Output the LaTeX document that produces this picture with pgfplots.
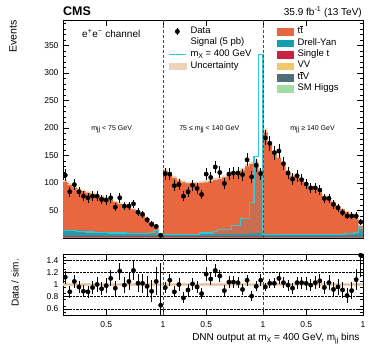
\documentclass[border=0pt]{standalone}
\usepackage{pgfplots}
\pgfplotsset{compat=1.18}
\usepackage{pgfplotstable}
\usepackage{fontspec}
\setmainfont{Liberation Sans}
\definecolor{ttcol}{RGB}{232,103,62}
\definecolor{dycol}{RGB}{20,158,178}
\definecolor{sigcol}{RGB}{50,200,215}
\definecolor{stcol}{RGB}{200,35,65}
\definecolor{vvcol}{RGB}{238,200,105}
\definecolor{ttvcol}{RGB}{80,110,115}
\definecolor{higcol}{RGB}{165,220,165}
\definecolor{unccol}{RGB}{236,212,186}
\definecolor{unclin}{RGB}{228,190,150}
\newcommand{\ttbar}{t\kern0.02em\rlap{\raisebox{0.76em}{\rule{0.28em}{0.06em}}}t}
\newcommand{\sub}[1]{\raisebox{-0.35ex}{\scriptsize #1}}

\pgfplotstableread{
i tot dy st vv ttv hig sig
0 102 12 1.6 0.6 0.8 0.3 14
1 96 11.5 1.6 0.6 0.8 0.3 13
2 92 11 1.6 0.6 0.8 0.3 13
3 88 10.5 1.6 0.6 0.8 0.3 12
4 85 10 1.6 0.6 0.8 0.3 12
5 82 9.5 1.6 0.6 0.8 0.3 11
6 80 9 1.6 0.6 0.8 0.3 11
7 77 8.5 1.6 0.6 0.8 0.3 10
8 75 8 1.6 0.6 0.8 0.3 10
9 72 8 1.6 0.6 0.8 0.3 10
10 69 7.5 1.6 0.6 0.8 0.3 9
11 65 7 1.6 0.6 0.8 0.3 9
12 62 7 1.6 0.6 0.8 0.3 9
13 59 6.5 1.6 0.6 0.8 0.3 9
14 56 6 1.6 0.6 0.8 0.3 8
15 52 6 1.6 0.6 0.8 0.3 8
16 48 5.5 1.6 0.6 0.8 0.3 8
17 43 5 1.6 0.6 0.8 0.3 8
18 36 4.5 1.6 0.6 0.8 0.3 8
19 29 4 1.6 0.6 0.8 0.3 10
20 22 3.5 1.6 0.6 0.8 0.3 14
21 9 3 1.6 0.6 0.8 0.3 8
22 122 4 1.8 0.6 0.8 0.3 6
23 115 4 1.8 0.6 0.8 0.3 6
24 109 4 1.8 0.6 0.8 0.3 6
25 104 4 1.8 0.6 0.8 0.3 6
26 101 3.5 1.8 0.6 0.8 0.3 6
27 99 3.5 1.8 0.6 0.8 0.3 6
28 99 3.5 1.8 0.6 0.8 0.3 6
29 99 3.5 1.8 0.6 0.8 0.3 6
30 100 3.5 1.8 0.6 0.8 0.3 9
31 101 3.5 1.8 0.6 0.8 0.3 9
32 103 3.5 1.8 0.6 0.8 0.3 9
33 105 3.5 1.8 0.6 0.8 0.3 12
34 107 3.5 1.8 0.6 0.8 0.3 16
35 110 3.5 1.8 0.6 0.8 0.3 16
36 112 3.5 1.8 0.6 0.8 0.3 16
37 115 4 1.8 0.6 0.8 0.3 23
38 118 4 1.8 0.6 0.8 0.3 23
39 123 4 1.8 0.6 0.8 0.3 36
40 130 4.5 1.8 0.6 0.8 0.3 36
41 134 5 1.8 0.6 0.8 0.3 64
42 137 6 1.8 0.6 0.8 0.3 148
43 122 6 1.8 0.6 0.8 0.3 334
44 192 5 1.2 0.6 0.8 0.3 7
45 170 4.5 1.2 0.6 0.8 0.3 7
46 153 4.5 1.2 0.6 0.8 0.3 7
47 145 4 1.2 0.6 0.8 0.3 7
48 132 4 1.2 0.6 0.8 0.3 7
49 120 4 1.2 0.6 0.8 0.3 7
50 113 4 1.2 0.6 0.8 0.3 7
51 109 3.5 1.2 0.6 0.8 0.3 7
52 103 3.5 1.2 0.6 0.8 0.3 7
53 97 3.5 1.2 0.6 0.8 0.3 7
54 92 3.5 1.2 0.6 0.8 0.3 7
55 88 3.5 1.2 0.6 0.8 0.3 7
56 83 3.5 1.2 0.6 0.8 0.3 7
57 76 3 1.2 0.6 0.8 0.3 7
58 71 3 1.2 0.6 0.8 0.3 7
59 65 3 1.2 0.6 0.8 0.3 7
60 58 3 1.2 0.6 0.8 0.3 7
61 52 3 1.2 0.6 0.8 0.3 7
62 47 3 1.2 0.6 0.8 0.3 8
63 43 3.5 1.2 0.6 0.8 0.3 8
64 37 4 1.2 0.6 0.8 0.3 10
65 22 9 1.2 0.6 0.8 0.3 18
66 22 9 1.2 0.6 0.8 0.3 18
}\hist

\pgfplotstableread{
x d r rp rm
0.5 114 1.12 0.105 0.105
1.5 84 0.88 0.096 0.096
2.5 97 1.05 0.107 0.107
3.5 84 0.96 0.105 0.105
4.5 76 0.89 0.10 0.10
5.5 73 0.88 0.10 0.10
6.5 76 0.95 0.11 0.11
7.5 76 1.00 0.115 0.115
8.5 70 0.93 0.11 0.11
9.5 69 0.98 0.12 0.12
10.5 73 1.10 0.13 0.13
11.5 56 0.94 0.125 0.125
12.5 73 1.22 0.14 0.14
13.5 58 0.99 0.13 0.13
14.5 58 1.05 0.14 0.14
15.5 62 1.23 0.155 0.155
16.5 47 1.02 0.15 0.15
17.5 43 1.02 0.155 0.155
18.5 33 0.97 0.17 0.17
19.5 25 0.89 0.18 0.18
20.5 21 1.05 0.23 0.23
21.5 5 0.66 0.70 0.30
22.5 117 0.95 0.088 0.088
23.5 116 1.07 0.10 0.10
24.5 95 0.88 0.09 0.09
25.5 97 1.00 0.10 0.10
26.5 76 0.78 0.09 0.09
27.5 84 0.91 0.10 0.10
28.5 96 1.01 0.10 0.10
29.5 90 0.96 0.10 0.10
30.5 79 0.85 0.095 0.095
31.5 116 1.17 0.11 0.11
32.5 110 1.09 0.10 0.10
33.5 129 1.23 0.11 0.11
34.5 119 1.14 0.105 0.105
35.5 99 0.90 0.09 0.09
36.5 116 1.04 0.096 0.096
37.5 118 1.04 0.095 0.095
38.5 118 1.03 0.095 0.095
39.5 115 0.92 0.086 0.086
40.5 142 1.07 0.09 0.09
41.5 111 0.81 0.077 0.077
42.5 132 0.97 0.084 0.084
43.5 117 1.07 0.10 0.10
44.5 182 0.96 0.07 0.07
45.5 172 1.02 0.078 0.078
46.5 155 1.02 0.082 0.082
47.5 158 1.10 0.087 0.087
48.5 135 1.03 0.089 0.089
49.5 118 0.99 0.09 0.09
50.5 107 0.94 0.09 0.09
51.5 113 1.03 0.097 0.097
52.5 106 1.03 0.10 0.10
53.5 98 1.02 0.103 0.103
54.5 91 0.99 0.104 0.104
55.5 91 1.03 0.108 0.108
56.5 87 1.06 0.114 0.114
57.5 72 0.95 0.112 0.112
58.5 72 1.03 0.121 0.121
59.5 61 0.92 0.118 0.118
60.5 55 0.96 0.13 0.13
61.5 46 0.91 0.135 0.135
62.5 40 0.82 0.13 0.13
63.5 40 0.90 0.143 0.143
64.5 40 1.08 0.17 0.17
65.5 29 1.48 0.30 0.36
}\data

\pgfplotsset{
  cmsstyle/.style={
    scale only axis, width=300pt, xmin=0, xmax=66,
    xtick={9.5,22,31.5,44,53.5,66},
    major tick length=6pt, minor tick length=3pt,
    tick style={black, line width=0.5pt},
    axis line style={line width=0.6pt},
    tick label style={font=\fontsize{8.5}{10}\selectfont},
    /pgf/number format/assume math mode=true,
  },
  databar/.style={only marks, mark=*, mark size=2.2pt, black,
    error bars/y dir=both, error bars/y explicit, error bars/error mark=none,
    error bars/error bar style={black, line width=0.8pt}},
  boxleg/.style={legend image code/.code={\fill[#1] (0pt,-3.3pt) rectangle (16pt,3.3pt);}},
}

\begin{document}
\begin{tikzpicture}
\useasboundingbox (0,0) rectangle (374pt,363pt);

% ---------------- main panel
\begin{axis}[cmsstyle,
  at={(63pt,125pt)}, anchor=south west, height=218pt,
  ymin=0, ymax=396, xticklabels={},
  ytick={50,100,...,350}, minor ytick={10,20,...,390},
  yticklabel style={xshift=-1pt},
  legend style={at={(rel axis cs:0.713,0.972)}, anchor=north west, draw=none, fill=none,
    inner sep=0pt, row sep=0pt, column sep=4pt, font=\fontsize{9.5}{11}\selectfont,
    nodes={inner sep=0pt, text height=7.4pt, text depth=4pt}},
  legend cell align=left,
]
\addplot[const plot, fill=unccol, draw=none, forget plot] table[x=i, y expr=1.035*\thisrow{tot}] {\hist} \closedcycle;
\addplot[const plot, fill=ttcol, draw=none, forget plot] table[x=i, y=tot] {\hist} \closedcycle;
\addplot[const plot, fill=dycol, draw=none, forget plot] table[x=i, y expr=\thisrow{dy}+\thisrow{st}+\thisrow{vv}+\thisrow{ttv}+\thisrow{hig}] {\hist} \closedcycle;
\addplot[const plot, fill=stcol, draw=none, forget plot] table[x=i, y expr=\thisrow{st}+\thisrow{vv}+\thisrow{ttv}+\thisrow{hig}] {\hist} \closedcycle;
\addplot[const plot, fill=vvcol, draw=none, forget plot] table[x=i, y expr=\thisrow{vv}+\thisrow{ttv}+\thisrow{hig}] {\hist} \closedcycle;
\addplot[const plot, fill=ttvcol, draw=none, forget plot] table[x=i, y expr=\thisrow{ttv}+\thisrow{hig}] {\hist} \closedcycle;
\addplot[const plot, fill=higcol, draw=none, forget plot] table[x=i, y=hig] {\hist} \closedcycle;
% signal (shaded where it lies over the stack)
\addplot[const plot, fill=gray, fill opacity=0.3, draw=none, forget plot] table[x=i, y expr={min(\thisrow{sig},\thisrow{tot})}] {\hist} \closedcycle;
\addplot[const plot, draw=sigcol, line width=1.2pt, forget plot] table[x=i, y=sig] {\hist};
% separators
\addplot[densely dashed, black!70, line width=0.6pt, forget plot] coordinates {(22,0) (22,396)};
\addplot[densely dashed, black!70, line width=0.6pt, forget plot] coordinates {(44,0) (44,396)};
% data
\addplot[forget plot, databar] table[x=x, y=d, y error expr=sqrt(\thisrow{d})] {\data};

\node[font=\fontsize{7}{8}\selectfont, anchor=base] at (axis cs:10.7,195) {m\sub{jj} < 75 GeV};
\node[font=\fontsize{7}{8}\selectfont, anchor=base] at (axis cs:32.2,195) {75 ≤ m\sub{jj} < 140 GeV};
\node[font=\fontsize{7}{8}\selectfont, anchor=base] at (axis cs:54.9,195) {m\sub{jj} ≥ 140 GeV};

\addlegendimage{boxleg=ttcol}\addlegendentry{\ttbar}
\addlegendimage{boxleg=dycol}\addlegendentry{Drell-Yan}
\addlegendimage{boxleg=stcol}\addlegendentry{Single t}
\addlegendimage{boxleg=vvcol}\addlegendentry{VV}
\addlegendimage{boxleg=ttvcol}\addlegendentry{\ttbar V}
\addlegendimage{boxleg=higcol}\addlegendentry{SM Higgs}
\end{axis}

% ---------------- second legend
\begin{axis}[at={(63pt,125pt)}, anchor=south west, scale only axis, width=300pt, height=218pt,
  hide axis, xmin=0, xmax=1, ymin=0, ymax=1,
  legend style={at={(rel axis cs:0.35,0.975)}, anchor=north west, draw=none, fill=none,
    inner sep=0pt, row sep=0pt, column sep=4pt, font=\fontsize{9.5}{11}\selectfont,
    nodes={inner sep=0pt, text height=7.6pt, text depth=4pt}},
  legend cell align=left]
\addplot[draw=none, forget plot] coordinates {(0.5,0.5)};
\addlegendimage{legend image code/.code={\draw[black, line width=0.8pt] (8.5pt,-3.3pt) -- (8.5pt,3.3pt); \fill[black] (8.5pt,0pt) circle (2.2pt);}}
\addlegendentry{Data}
\addlegendimage{empty legend}\addlegendentry{Signal (5 pb)}
\addlegendimage{legend image code/.code={\draw[sigcol, line width=1.3pt] (0pt,0pt) -- (17pt,0pt);}}
\addlegendentry{m\sub{X} = 400 GeV}
\addlegendimage{legend image code/.code={\fill[unccol] (0pt,-3.3pt) rectangle (17pt,3.3pt);}}
\addlegendentry{Uncertainty}
\end{axis}

% ---------------- ratio panel
\begin{axis}[cmsstyle,
  at={(63pt,48pt)}, anchor=south west, height=61pt,
  ymin=0.5, ymax=1.5,
  xticklabels={0.5,1,0.5,1,0.5,1},
  ytick={0.6,0.8,1,1.2,1.4}, minor ytick={0.55,0.65,...,1.45},
  ymajorgrids, grid style={densely dotted, black, line width=0.5pt},
  yticklabel style={xshift=-1pt},
  xticklabel style={yshift=-3pt},
  xlabel={DNN output at m\sub{X} = 400 GeV, m\sub{jj} bins},
  xlabel style={at={(rel axis cs:1,0)}, anchor=base east, yshift=-25.5pt, font=\fontsize{10}{12}\selectfont},
]
\addplot[fill=unccol, draw=none] coordinates {(0,0.975) (66,0.975) (66,1.025) (0,1.025)} -- cycle;
\addplot[unclin, line width=1pt] coordinates {(0,1) (66,1)};
\addplot[densely dashed, black!70, line width=0.6pt] coordinates {(22,0.5) (22,1.5)};
\addplot[densely dashed, black!70, line width=0.6pt] coordinates {(44,0.5) (44,1.5)};
\addplot[databar] table[x=x, y=r, y error plus=rp, y error minus=rm] {\data};
\end{axis}

% ---------------- texts
\node[font=\bfseries\fontsize{12.5}{14}\selectfont, anchor=base west, inner sep=0pt] at (63pt,347pt) {CMS};
\node[font=\fontsize{10}{12}\selectfont, anchor=base east, inner sep=0pt] at (362pt,347.5pt) {35.9 fb\textsuperscript{-1} (13 TeV)};
\node[font=\fontsize{10}{12}\selectfont, anchor=base west, inner sep=0pt] at (82pt,325.5pt) {e\textsuperscript{+}e\textsuperscript{−} channel};
\node[font=\fontsize{10.5}{12}\selectfont, rotate=90, anchor=east, inner sep=0pt] at (13pt,343pt) {Events};
\node[font=\fontsize{10}{12}\selectfont, rotate=90, anchor=center, inner sep=0pt] at (15pt,80pt) {Data / sim.};
\end{tikzpicture}
\end{document}
